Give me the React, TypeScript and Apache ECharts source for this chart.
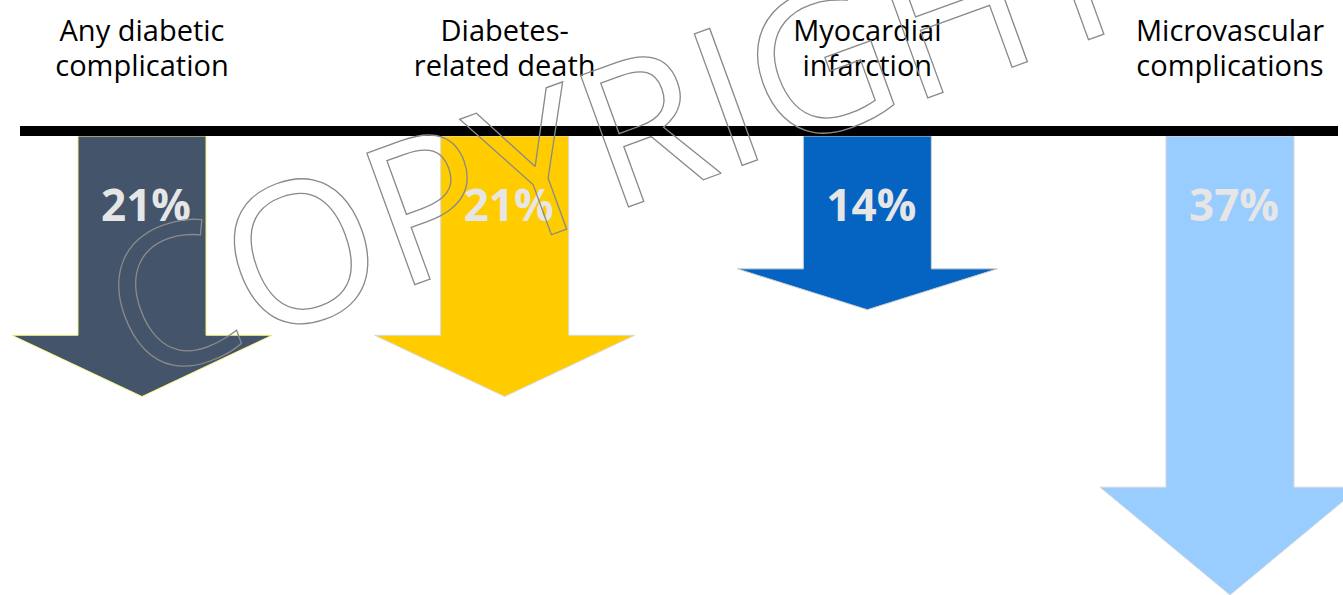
import React, { useEffect, useRef } from "react";
import * as echarts from "echarts";

const categories = [
  "Any diabetic\ncomplication",
  "Diabetes-\nrelated death",
  "Myocardial\ninfarction",
  "Microvascular\ncomplications",
];
const reductions = [21, 21, 14, 37];
const arrowColors = ["#44546A", "#FFCC00", "#0563C1", "#99CCFF"];
const arrowBorders = ["#F3F37A", "#D9D9D9", "#D0D0D0", "#D9D9D9"];
const watermarkText = "COPYRIGHT";

export default function App() {
  const ref = useRef<HTMLDivElement>(null);
  useEffect(() => {
    const chart = echarts.init(ref.current!, null, { renderer: "svg" });
    const option: any = {
      animation: false,
      grid: { left: 142, right: 113, top: 136, bottom: 0 },
      xAxis: {
        type: "category",
        data: categories,
        position: "top",
        boundaryGap: false,
        axisLine: { show: false },
        axisTick: { show: false },
        splitLine: { show: false },
        axisLabel: {
          interval: 0,
          color: "#000",
          fontFamily: "Open Sans",
          fontSize: 29,
          lineHeight: 35,
          margin: 54,
        },
      },
      yAxis: { type: "value", inverse: true, min: 0, max: 37, show: false },
      graphic: [
        {
          type: "line",
          shape: { x1: 20, y1: 131, x2: 1338, y2: 131 },
          style: { stroke: "#000", lineWidth: 10 },
          z: 5,
        },
        {
          type: "text",
          x: 616,
          y: 130,
          rotation: (20 * Math.PI) / 180,
          z: 100,
          silent: true,
          style: {
            text: watermarkText,
            align: "center",
            verticalAlign: "middle",
            fontFamily: "Open Sans",
            fontSize: 196,
            fill: "rgba(0,0,0,0)",
            stroke: "#8A8A8A",
            lineWidth: 1.3,
          },
        },
      ],
      series: [
        {
          type: "custom",
          clip: false,
          z: 2,
          data: reductions.map((v, i) => [i, v]),
          renderItem: (params: any, api: any) => {
            const i = api.value(0);
            const v = api.value(1);
            const top = api.coord([i, 0]);
            const tip = api.coord([i, v]);
            const cx = top[0];
            const y0 = top[1];
            const y1 = tip[1];
            const L = y1 - y0;
            const headLen = L * 0.235;
            const sh = 64;
            const hh = 130;
            const yh = y1 - headLen;
            return {
              type: "group",
              children: [
                {
                  type: "polygon",
                  shape: {
                    points: [
                      [cx - sh, y0],
                      [cx + sh, y0],
                      [cx + sh, yh],
                      [cx + hh, yh],
                      [cx, y1],
                      [cx - hh, yh],
                      [cx - sh, yh],
                    ],
                  },
                  style: {
                    fill: arrowColors[i],
                    stroke: arrowBorders[i],
                    lineWidth: 1,
                  },
                },
                {
                  type: "text",
                  x: cx + 4,
                  y: y0 + 68,
                  style: {
                    text: v + "%",
                    align: "center",
                    verticalAlign: "middle",
                    fill: "#E7E6E6",
                    fontFamily: "Open Sans",
                    fontWeight: "bold",
                    fontSize: 44,
                  },
                },
              ],
            };
          },
        },
      ],
    };
    chart.setOption(option);
    return () => chart.dispose();
  }, []);
  return (
    <div
      ref={ref}
      style={{ position: "absolute", left: 0, top: 0, width: 1343, height: 595, background: "#fff" }}
    />
  );
}
